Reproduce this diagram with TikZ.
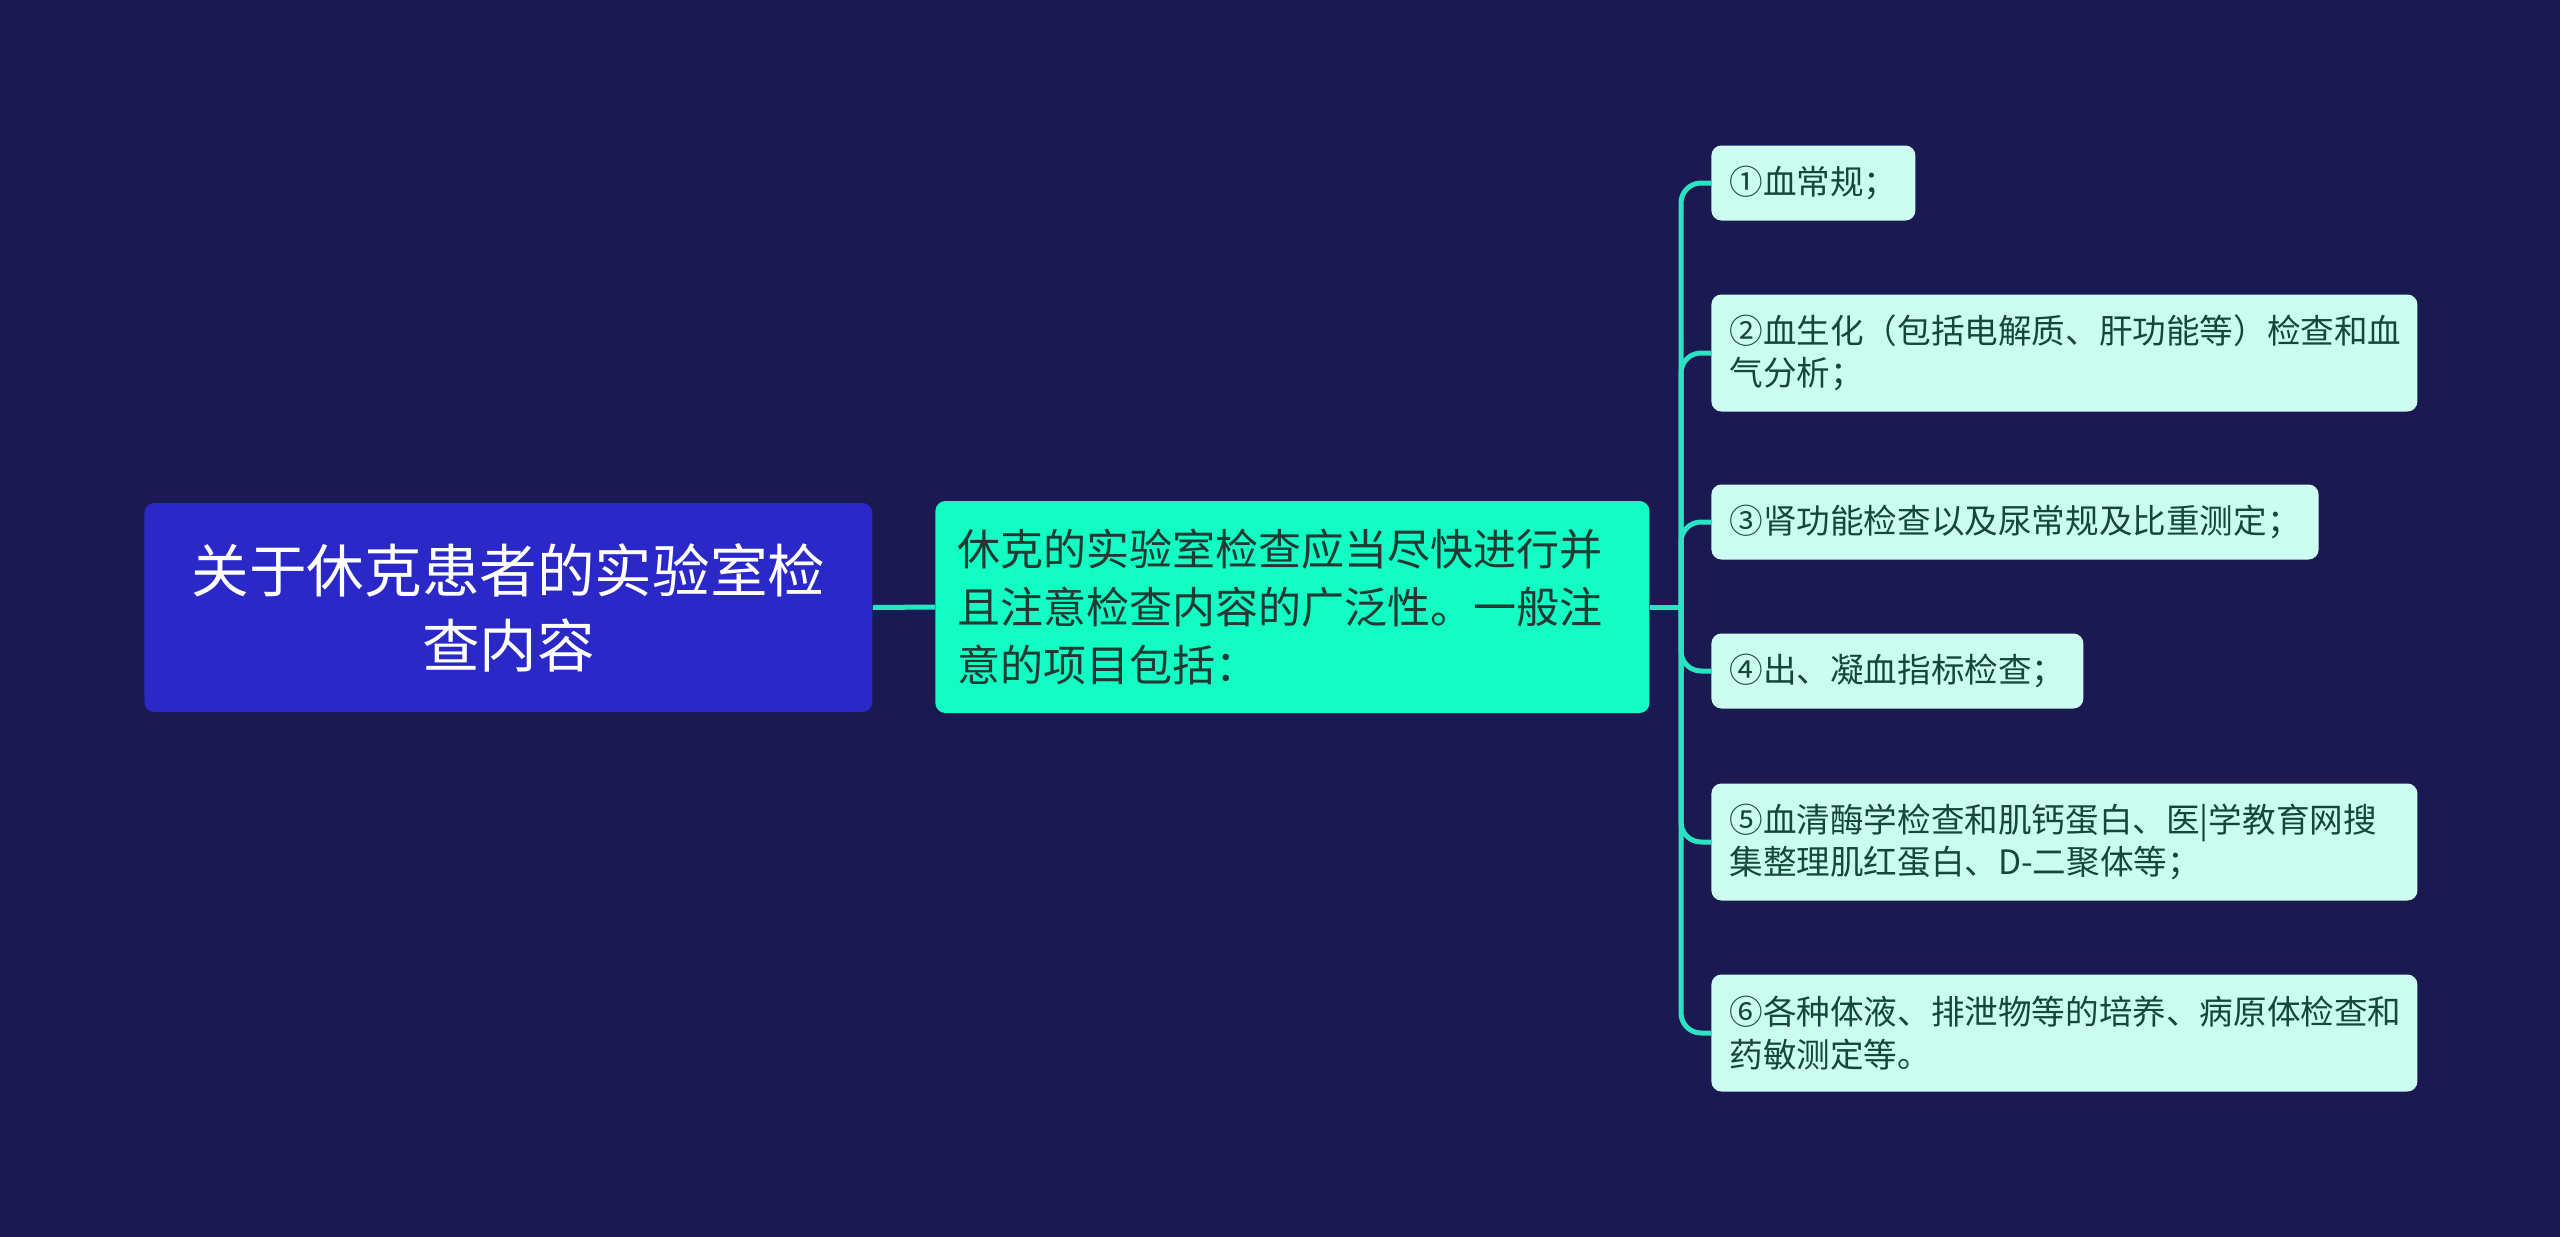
\documentclass[tikz,border=0pt]{standalone}
\usepackage{fontspec}
\setmainfont{Noto Sans CJK SC}
\definecolor{navy}{HTML}{1B1952}
\definecolor{rootblue}{HTML}{2A28C6}
\definecolor{mainaqua}{HTML}{12FCC4}
\definecolor{leafmint}{HTML}{CDFDF0}
\definecolor{linkteal}{HTML}{2BE3C3}
\definecolor{mainink}{HTML}{1F3A33}
\definecolor{leafink}{HTML}{17463A}

\begin{document}
\begin{tikzpicture}
[x=0.5pt, y=-0.5pt,
  box/.style={rounded corners=5pt, inner sep=0pt, anchor=west},
  topic/.style={box, fill=rootblue, text=white, font=\fontsize{28.8}{37.5}\selectfont,
    align=center, minimum width=364pt, minimum height=104.5pt},
  sub/.style={box, fill=mainaqua, text=mainink, font=\fontsize{21.5}{29}\selectfont,
    align=left, inner xsep=11pt, text width=335pt, minimum height=106pt},
  leaf/.style={box, fill=leafmint, text=leafink, font=\fontsize{16.8}{21.2}\selectfont,
    align=left, inner xsep=9pt, minimum height=37.5pt},
  leaf2/.style={leaf, text width=335pt, minimum height=58.5pt},
  link/.style={draw=linkteal, line width=2.5pt, rounded corners=10pt}]
  \useasboundingbox (0,0) rectangle (2560,1237);
  \fill[navy] (0,0) rectangle (2560,1237);
  \node[topic] (topic) at (144,607.5) {关于休克患者的实验室检\\查内容};
  \node[sub] (sub) at (935,607) {休克的实验室检查应当尽快进行并\\且注意检查内容的广泛性。一般注\\意的项目包括：};
  \node[leaf] (i1) at (1711,183) {①血常规；};
  \node[leaf2] (i2) at (1711,353) {②血生化（包括电解质、肝功能等）检查和血\\气分析；};
  \node[leaf] (i3) at (1711,522) {③肾功能检查以及尿常规及比重测定；};
  \node[leaf] (i4) at (1711,671) {④出、凝血指标检查；};
  \node[leaf2] (i5) at (1711,842) {⑤血清酶学检查和肌钙蛋白、医|学教育网搜\\集整理肌红蛋白、D-二聚体等；};
  \node[leaf2] (i6) at (1711,1033) {⑥各种体液、排泄物等的培养、病原体检查和\\药敏测定等。};
  % connectors
  \coordinate (fork) at (1681,607);
  \draw[link] (topic.east) -- (sub.west);
  \draw[link] (sub.east) -- (fork);
  \foreach \n in {1,...,6}
    \draw[link] (fork) |- (i\n.west);
\end{tikzpicture}
\end{document}
